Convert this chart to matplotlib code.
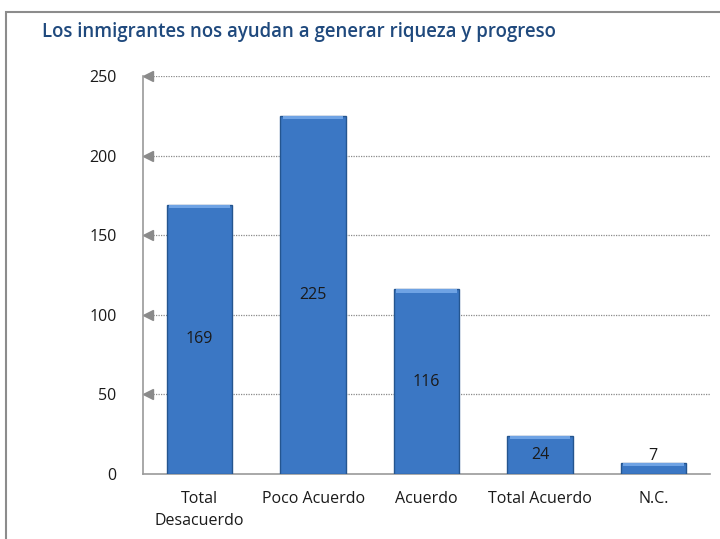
import matplotlib.pyplot as plt
from matplotlib.patches import Rectangle
from matplotlib.transforms import blended_transform_factory

categories = ["Total\nDesacuerdo", "Poco Acuerdo", "Acuerdo", "Total Acuerdo", "N.C."]
values = [169, 225, 116, 24, 7]
y_ticks = [0, 50, 100, 150, 200, 250]
title = "Los inmigrantes nos ayudan a generar riqueza y progreso"

plt.rcParams['font.family'] = ['Open Sans', 'DejaVu Sans']

fig = plt.figure(figsize=(7.2, 5.39), dpi=100)
ax = fig.add_axes([143 / 720, 1 - 474 / 539, 567 / 720, 398 / 539])

# outer chart frame (cut off at right and bottom in the reference)
fig.patches.append(Rectangle((6 / 720, -0.1), 1.2, 1 - 12 / 539 + 0.1,
                             transform=fig.transFigure, fill=False,
                             edgecolor="#8c8c8c", linewidth=1.5))

x = list(range(len(categories)))
bars = ax.bar(x, values, width=0.575, color="#3b77c4", edgecolor="#24558f",
              linewidth=1.0, zorder=3)
# lighter bevel along the top of each bar
for b in bars:
    h = b.get_height()
    ax.add_patch(Rectangle((b.get_x() + 0.02, h - min(2.2, h * 0.3)), b.get_width() - 0.04,
                           min(2.2, h * 0.3), facecolor="#6fa3e4", edgecolor="none", zorder=4))

for xi, v in zip(x, values):
    if v > 15:
        ax.text(xi, v / 2, str(v), ha="center", va="center", fontsize=11.5, color="#1a1a1a", zorder=5)
    else:
        ax.text(xi, v - 0.5, str(v), ha="center", va="bottom", fontsize=11.5, color="#1a1a1a", zorder=5)

ax.set_xlim(-0.5, 4.5)
ax.set_ylim(0, 250)
ax.set_yticks(y_ticks)
ax.set_xticks(x)
ax.set_xticklabels(categories, linespacing=1.55)
ax.tick_params(axis="both", length=0, labelsize=11.5, labelcolor="#1a1a1a")
ax.tick_params(axis="y", pad=19)
ax.tick_params(axis="x", pad=12)

for t in y_ticks[1:]:
    ax.axhline(t, color="#8a8a8a", linestyle=(0, (1, 1)), linewidth=0.9, zorder=1)

# arrowhead markers at the axis for each gridline
trans = blended_transform_factory(ax.transAxes, ax.transData)
ax.plot([0.009] * (len(y_ticks) - 1), y_ticks[1:], marker="<", markersize=7,
        linestyle="none", color="#8a8a8a", transform=trans, clip_on=False, zorder=2)

for side in ["top", "right"]:
    ax.spines[side].set_visible(False)
ax.spines["left"].set_color("#9a9a9a")
ax.spines["bottom"].set_color("#9a9a9a")
ax.spines["left"].set_linewidth(1.2)
ax.spines["bottom"].set_linewidth(1.2)

fig.text(42 / 720, 1 - 32 / 539, title, ha="left", va="center", fontsize=13.4,
         fontweight="semibold", color="#1f497d")

fig.savefig("out.png", dpi=100)
